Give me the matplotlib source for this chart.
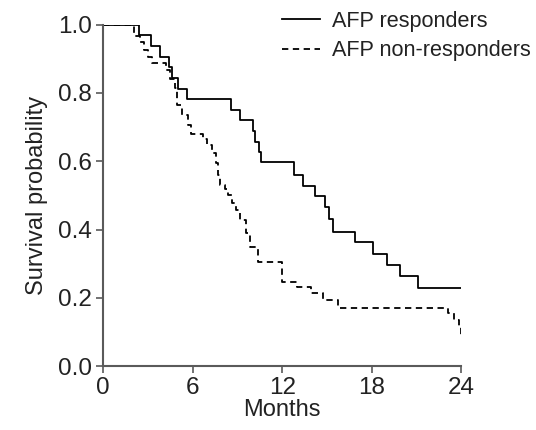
import matplotlib
matplotlib.use("Agg")
import matplotlib.pyplot as plt

plt.rcParams['font.family'] = ['Liberation Sans', 'DejaVu Sans']

# Kaplan-Meier step values (months, survival)
resp_t = [0, 2.4, 3.2, 3.8, 4.4, 4.6, 5.0, 5.6, 8.6, 9.2, 10.05, 10.2, 10.45, 10.6,
          12.8, 13.4, 14.2, 14.85, 15.1, 15.37, 16.9, 18.1, 19.0, 19.9, 21.1, 24]
resp_s = [1.0, 0.969, 0.938, 0.906, 0.875, 0.844, 0.812, 0.781, 0.75, 0.72, 0.688, 0.657,
          0.628, 0.597, 0.56, 0.527, 0.497, 0.467, 0.43, 0.394, 0.365, 0.328, 0.297, 0.263,
          0.23, 0.23]

nonresp_t = [0, 2.1, 2.5, 2.75, 3.05, 3.3, 4.2, 4.5, 4.8, 4.95, 5.3, 5.7, 5.9, 6.7, 7.0,
             7.3, 7.6, 7.72, 7.85, 8.2, 8.4, 8.65, 8.9, 9.17, 9.6, 9.85, 10.4, 12.0, 13.0,
             13.9, 14.7, 15.75, 23.1, 23.5, 23.85, 24]
nonresp_s = [1.0, 0.965, 0.95, 0.926, 0.906, 0.886, 0.868, 0.84, 0.814, 0.766, 0.736, 0.707,
             0.68, 0.664, 0.648, 0.623, 0.594, 0.56, 0.531, 0.52, 0.5, 0.477, 0.458, 0.428,
             0.39, 0.35, 0.305, 0.248, 0.232, 0.214, 0.194, 0.17, 0.155, 0.136, 0.116, 0.087]

x_ticks = [0, 6, 12, 18, 24]
y_ticks = [0.0, 0.2, 0.4, 0.6, 0.8, 1.0]

txt = '#222222'

fig = plt.figure(figsize=(5.36, 4.30), dpi=100)
ax = fig.add_axes([0.192, 0.148, 0.669, 0.795])

ax.plot(resp_t, resp_s, drawstyle='steps-post', color='black', lw=1.3,
        label='AFP responders')
ax.plot(nonresp_t, nonresp_s, drawstyle='steps-post', color='black', lw=1.3,
        linestyle=(0, (3.5, 2.5)), label='AFP non-responders')

ax.set_xlim(0, 24)
ax.set_ylim(0, 1.0)
ax.set_xticks(x_ticks)
ax.set_yticks(y_ticks)
ax.set_yticklabels(['%.1f' % v for v in y_ticks])

for s in ['top', 'right']:
    ax.spines[s].set_visible(False)
for s in ['left', 'bottom']:
    ax.spines[s].set_color('#5a5a5a')
    ax.spines[s].set_linewidth(1.5)
ax.tick_params(direction='out', length=5, width=1.2, color='#5a5a5a',
               labelsize=17.5, labelcolor=txt, pad=3)

ax.set_xlabel('Months', fontsize=17, color=txt, labelpad=0)
ax.set_ylabel('Survival probability', fontsize=17, color=txt, labelpad=7)

ax.legend(loc='upper left', bbox_to_anchor=(0.527, 0.975), bbox_transform=fig.transFigure,
          frameon=False, fontsize=15.6, handlelength=1.75, handletextpad=0.55,
          borderpad=0, borderaxespad=0, labelspacing=0.4, labelcolor=txt)

fig.savefig('out.png', dpi=100)
